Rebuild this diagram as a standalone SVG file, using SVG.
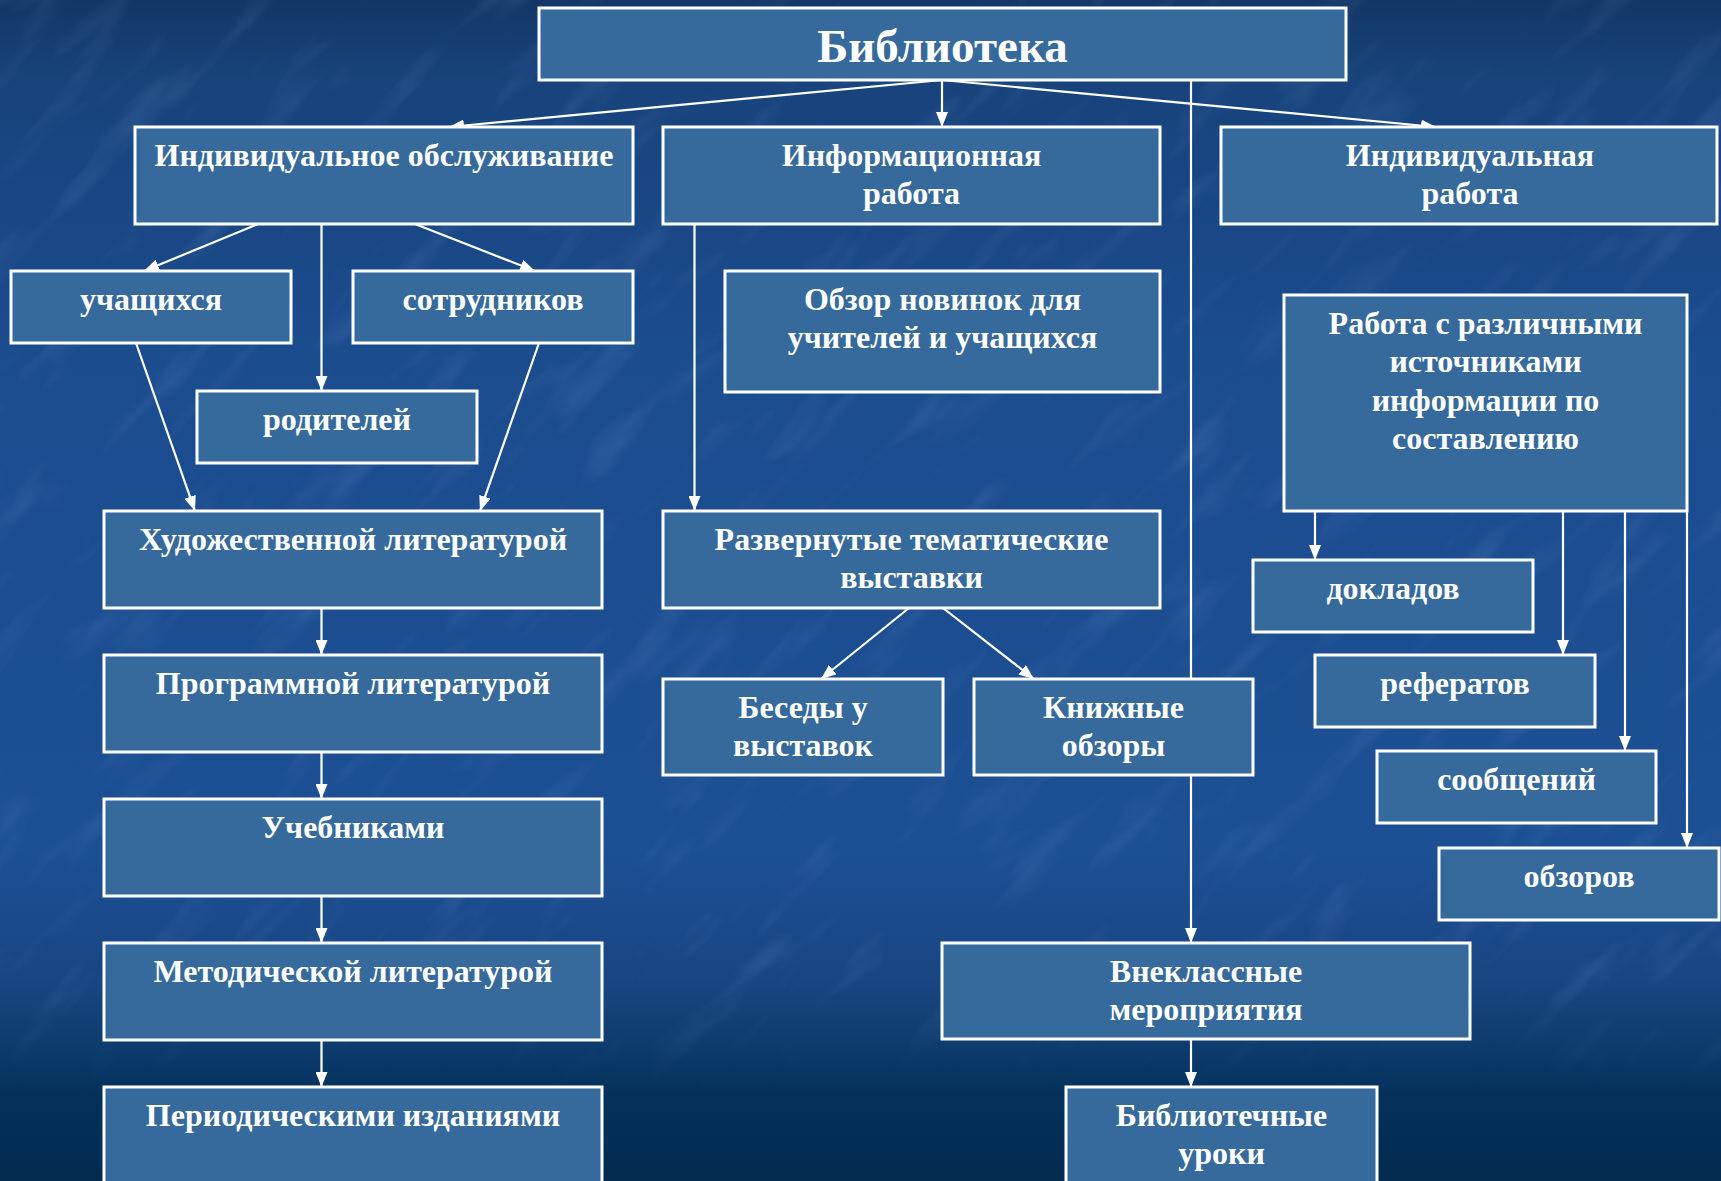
<svg xmlns="http://www.w3.org/2000/svg" width="1721" height="1181" viewBox="0 0 1721 1181">
  <defs>
    <linearGradient id="bg" x1="0" y1="0" x2="0" y2="1">
      <stop offset="0" stop-color="#133867"/>
      <stop offset="0.07" stop-color="#18437c"/>
      <stop offset="0.3" stop-color="#1b4c8e"/>
      <stop offset="0.72" stop-color="#1d4f94"/>
      <stop offset="0.83" stop-color="#184683"/>
      <stop offset="0.89" stop-color="#0d3b6b"/>
      <stop offset="0.93" stop-color="#04305a"/>
      <stop offset="1" stop-color="#022b4f"/>
    </linearGradient>
    <linearGradient id="fade" x1="0" y1="0" x2="0" y2="1">
      <stop offset="0" stop-color="#fff" stop-opacity="1"/>
      <stop offset="0.82" stop-color="#fff" stop-opacity="1"/>
      <stop offset="0.93" stop-color="#fff" stop-opacity="0"/>
      <stop offset="1" stop-color="#fff" stop-opacity="0"/>
    </linearGradient>
    <mask id="m">
      <rect x="0" y="0" width="1721" height="1181" fill="url(#fade)"/>
    </mask>
    <filter id="tex" x="0" y="0" width="1" height="1">
      <feTurbulence type="fractalNoise" baseFrequency="0.008 0.03" numOctaves="3" seed="7"/>
      <feColorMatrix type="matrix" values="0 0 0 0 0.45  0 0 0 0 0.65  0 0 0 0 1  0 0 0 1.4 -0.75"/>
    </filter>
    <marker id="arr" viewBox="0 0 15 12" markerWidth="15" markerHeight="12" refX="15" refY="6" orient="auto" markerUnits="userSpaceOnUse">
      <path d="M0,0 L15,6 L0,12 z" fill="#ffffff"/>
    </marker>
    <style>
      .box { fill: #36699c; stroke: #ffffff; stroke-width: 3; }
      .t { font-family: "Liberation Serif", "Times New Roman", serif; font-weight: bold; font-size: 32px; fill: #ffffff; text-anchor: middle; }
      .title { font-size: 47px; }
      .ca { stroke: #ffffff; stroke-width: 2.2; fill: none; marker-end: url(#arr); }
    </style>
  </defs>

  <rect x="0" y="0" width="1721" height="1181" fill="url(#bg)"/>
  <g mask="url(#m)">
    <g transform="rotate(-45 860 590)" opacity="0.2">
      <rect x="-700" y="-700" width="3100" height="2600" filter="url(#tex)"/>
    </g>
  </g>

  <g id="connectors">
    <line class="ca" x1="942" y1="80" x2="449" y2="127"/>
    <line class="ca" x1="942" y1="80" x2="942" y2="127"/>
    <line class="ca" x1="942" y1="80" x2="1436" y2="127"/>
    <line class="ca" x1="1191" y1="80" x2="1191" y2="943"/>
    <line class="ca" x1="1191" y1="1039" x2="1191" y2="1087"/>
    <line class="ca" x1="258" y1="224" x2="144" y2="271"/>
    <line class="ca" x1="415" y1="224" x2="535" y2="271"/>
    <line class="ca" x1="321.5" y1="224" x2="321.5" y2="391"/>
    <line class="ca" x1="136" y1="343" x2="195" y2="511"/>
    <line class="ca" x1="539" y1="343" x2="480" y2="511"/>
    <line class="ca" x1="694.5" y1="224" x2="694.5" y2="511"/>
    <line class="ca" x1="321.5" y1="608" x2="321.5" y2="655"/>
    <line class="ca" x1="321.5" y1="752" x2="321.5" y2="799"/>
    <line class="ca" x1="321.5" y1="896" x2="321.5" y2="943"/>
    <line class="ca" x1="321.5" y1="1040" x2="321.5" y2="1087"/>
    <line class="ca" x1="909" y1="608" x2="821" y2="679"/>
    <line class="ca" x1="943" y1="608" x2="1034" y2="679"/>
    <line class="ca" x1="1315" y1="511" x2="1315" y2="560"/>
    <line class="ca" x1="1563" y1="511" x2="1563" y2="655"/>
    <line class="ca" x1="1625" y1="511" x2="1625" y2="751"/>
    <line class="ca" x1="1687" y1="511" x2="1687" y2="848"/>
  </g>

  <g id="n-biblioteka">
    <rect class="box" x="539" y="8" width="807" height="72"/>
    <text class="t title" x="942.5" y="62">Библиотека</text>
  </g>
  <g id="n-ind-obsl">
    <rect class="box" x="135" y="127" width="498" height="97"/>
    <text class="t" x="384" y="165.5">Индивидуальное обслуживание</text>
  </g>
  <g id="n-info">
    <rect class="box" x="663" y="127" width="497" height="97"/>
    <text class="t" x="911.5" y="165.5">Информационная</text>
    <text class="t" x="911.5" y="204">работа</text>
  </g>
  <g id="n-ind-rab">
    <rect class="box" x="1221" y="127" width="496" height="97"/>
    <text class="t" x="1470" y="165.5">Индивидуальная</text>
    <text class="t" x="1470" y="204">работа</text>
  </g>
  <g id="n-uch">
    <rect class="box" x="11" y="271" width="280" height="72"/>
    <text class="t" x="151" y="309.5">учащихся</text>
  </g>
  <g id="n-sotr">
    <rect class="box" x="353" y="271" width="280" height="72"/>
    <text class="t" x="493" y="309.5">сотрудников</text>
  </g>
  <g id="n-rod">
    <rect class="box" x="197" y="391" width="280" height="72"/>
    <text class="t" x="337" y="429.5">родителей</text>
  </g>
  <g id="n-obzor-nov">
    <rect class="box" x="725" y="271" width="435" height="121"/>
    <text class="t" x="942.5" y="309.5">Обзор новинок для</text>
    <text class="t" x="942.5" y="348">учителей и учащихся</text>
  </g>
  <g id="n-rabota">
    <rect class="box" x="1284" y="295" width="403" height="216"/>
    <text class="t" x="1485.5" y="333.5">Работа с различными</text>
    <text class="t" x="1485.5" y="372">источниками</text>
    <text class="t" x="1485.5" y="410.5">информации по</text>
    <text class="t" x="1485.5" y="449">составлению</text>
  </g>
  <g id="n-hud">
    <rect class="box" x="104" y="511" width="498" height="97"/>
    <text class="t" x="353" y="549.5">Художественной литературой</text>
  </g>
  <g id="n-prog">
    <rect class="box" x="104" y="655" width="498" height="97"/>
    <text class="t" x="353" y="693.5">Программной литературой</text>
  </g>
  <g id="n-ucheb">
    <rect class="box" x="104" y="799" width="498" height="97"/>
    <text class="t" x="353" y="837.5">Учебниками</text>
  </g>
  <g id="n-metod">
    <rect class="box" x="104" y="943" width="498" height="97"/>
    <text class="t" x="353" y="981.5">Методической литературой</text>
  </g>
  <g id="n-period">
    <rect class="box" x="104" y="1087" width="498" height="120"/>
    <text class="t" x="353" y="1125.5">Периодическими изданиями</text>
  </g>
  <g id="n-razv">
    <rect class="box" x="663" y="511" width="497" height="97"/>
    <text class="t" x="911.5" y="549.5">Развернутые тематические</text>
    <text class="t" x="911.5" y="588">выставки</text>
  </g>
  <g id="n-besedy">
    <rect class="box" x="663" y="679" width="280" height="96"/>
    <text class="t" x="803" y="717.5">Беседы у</text>
    <text class="t" x="803" y="756">выставок</text>
  </g>
  <g id="n-knizh">
    <rect class="box" x="974" y="679" width="279" height="96"/>
    <text class="t" x="1113.5" y="717.5">Книжные</text>
    <text class="t" x="1113.5" y="756">обзоры</text>
  </g>
  <g id="n-vnekl">
    <rect class="box" x="942" y="943" width="528" height="96"/>
    <text class="t" x="1206" y="981.5">Внеклассные</text>
    <text class="t" x="1206" y="1020">мероприятия</text>
  </g>
  <g id="n-bibl-uroki">
    <rect class="box" x="1066" y="1087" width="311" height="120"/>
    <text class="t" x="1221.5" y="1125.5">Библиотечные</text>
    <text class="t" x="1221.5" y="1164">уроки</text>
  </g>
  <g id="n-doklad">
    <rect class="box" x="1253" y="560" width="280" height="72"/>
    <text class="t" x="1393" y="598.5">докладов</text>
  </g>
  <g id="n-refer">
    <rect class="box" x="1315" y="655" width="280" height="72"/>
    <text class="t" x="1455" y="693.5">рефератов</text>
  </g>
  <g id="n-soob">
    <rect class="box" x="1377" y="751" width="279" height="72"/>
    <text class="t" x="1516.5" y="789.5">сообщений</text>
  </g>
  <g id="n-obzorov">
    <rect class="box" x="1439" y="848" width="280" height="72"/>
    <text class="t" x="1579" y="886.5">обзоров</text>
  </g>
</svg>
